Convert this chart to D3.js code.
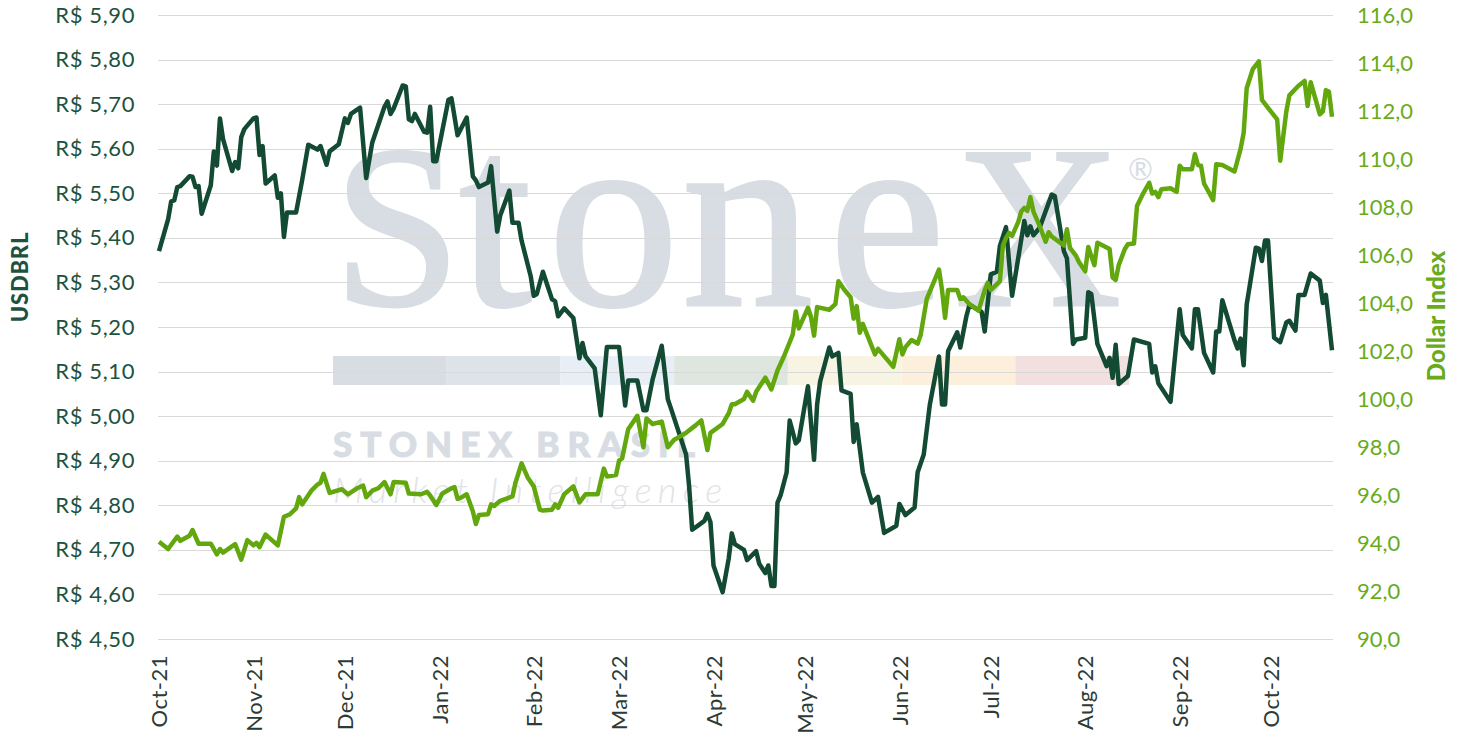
<!DOCTYPE html>
<html>
<head>
<meta charset="utf-8">
<script src="https://cdnjs.cloudflare.com/ajax/libs/d3/7.8.5/d3.min.js"></script>
<style>
  body { margin: 0; background: #ffffff; }
  #viz { width: 1461px; height: 741px; }
</style>
</head>
<body>
<div id="viz"></div>
<script>
// USDBRL (eixo esquerdo) - leitura do grafico
var brlDates = ['2021-10-01','2021-10-04','2021-10-05','2021-10-06','2021-10-07','2021-10-08','2021-10-11','2021-10-12','2021-10-13','2021-10-14',
  '2021-10-15','2021-10-18','2021-10-19','2021-10-20','2021-10-21','2021-10-22','2021-10-25','2021-10-26','2021-10-27','2021-10-28',
  '2021-10-29','2021-11-01','2021-11-02','2021-11-03','2021-11-04','2021-11-05','2021-11-08','2021-11-09','2021-11-10','2021-11-11',
  '2021-11-12','2021-11-15','2021-11-17','2021-11-19','2021-11-22','2021-11-23','2021-11-25','2021-11-26','2021-11-29','2021-12-01',
  '2021-12-02','2021-12-03','2021-12-06','2021-12-08','2021-12-10','2021-12-14','2021-12-15','2021-12-16','2021-12-17','2021-12-20',
  '2021-12-21','2021-12-22','2021-12-23','2021-12-24','2021-12-27','2021-12-28','2021-12-29','2021-12-30','2021-12-31','2022-01-04',
  '2022-01-05','2022-01-07','2022-01-10','2022-01-12','2022-01-13','2022-01-14','2022-01-17','2022-01-18','2022-01-20','2022-01-21',
  '2022-01-24','2022-01-25','2022-01-27','2022-01-28','2022-01-31','2022-02-01','2022-02-02','2022-02-04','2022-02-07','2022-02-08',
  '2022-02-09','2022-02-11','2022-02-14','2022-02-16','2022-02-17','2022-02-18','2022-02-21','2022-02-23','2022-02-25','2022-03-01',
  '2022-03-03','2022-03-04','2022-03-07','2022-03-09','2022-03-10','2022-03-12','2022-03-15','2022-03-17','2022-03-18','2022-03-23',
  '2022-03-24','2022-03-25','2022-03-27','2022-03-29','2022-03-30','2022-03-31','2022-04-01','2022-04-04','2022-04-06','2022-04-07',
  '2022-04-08','2022-04-11','2022-04-12','2022-04-15','2022-04-16','2022-04-18','2022-04-19','2022-04-20','2022-04-21','2022-04-22',
  '2022-04-23','2022-04-25','2022-04-26','2022-04-28','2022-04-29','2022-05-02','2022-05-04','2022-05-05','2022-05-06','2022-05-09',
  '2022-05-10','2022-05-12','2022-05-13','2022-05-16','2022-05-17','2022-05-18','2022-05-20','2022-05-23','2022-05-25','2022-05-27',
  '2022-05-31','2022-06-01','2022-06-03','2022-06-06','2022-06-07','2022-06-09','2022-06-11','2022-06-14','2022-06-15','2022-06-16',
  '2022-06-17','2022-06-20','2022-06-21','2022-06-23','2022-06-24','2022-06-28','2022-06-29','2022-07-01','2022-07-03','2022-07-04',
  '2022-07-06','2022-07-08','2022-07-12','2022-07-13','2022-07-14','2022-07-15','2022-07-17','2022-07-21','2022-07-22','2022-07-25',
  '2022-07-26','2022-07-28','2022-07-29','2022-08-01','2022-08-02','2022-08-03','2022-08-05','2022-08-08','2022-08-09','2022-08-10',
  '2022-08-11','2022-08-12','2022-08-15','2022-08-17','2022-08-22','2022-08-23','2022-08-24','2022-08-25','2022-08-29','2022-09-01',
  '2022-09-02','2022-09-05','2022-09-06','2022-09-07','2022-09-09','2022-09-12','2022-09-13','2022-09-14','2022-09-15','2022-09-19',
  '2022-09-20','2022-09-21','2022-09-22','2022-09-23','2022-09-26','2022-09-27','2022-09-28','2022-09-29','2022-09-30','2022-10-02',
  '2022-10-04','2022-10-06','2022-10-07','2022-10-09','2022-10-10','2022-10-12','2022-10-14','2022-10-17','2022-10-18','2022-10-19',
  '2022-10-21'];
var brlValues = [5.370,5.442,5.482,5.484,5.514,5.516,5.538,5.537,5.514,5.516,
  5.454,5.518,5.594,5.562,5.668,5.622,5.550,5.570,5.556,5.626,
  5.644,5.668,5.670,5.586,5.606,5.522,5.540,5.490,5.500,5.402,
  5.457,5.457,5.530,5.609,5.598,5.606,5.564,5.594,5.610,5.668,
  5.658,5.678,5.692,5.534,5.614,5.694,5.706,5.678,5.690,5.742,
  5.740,5.666,5.662,5.678,5.638,5.636,5.694,5.572,5.572,5.710,
  5.713,5.630,5.670,5.538,5.529,5.514,5.524,5.561,5.414,5.450,
  5.506,5.434,5.434,5.394,5.314,5.270,5.274,5.324,5.262,5.258,
  5.224,5.242,5.220,5.130,5.164,5.134,5.107,5.002,5.155,5.155,
  5.024,5.080,5.080,5.013,5.013,5.082,5.158,5.038,5.018,4.914,
  4.842,4.745,4.755,4.765,4.781,4.762,4.665,4.605,4.681,4.737,
  4.713,4.700,4.677,4.697,4.669,4.648,4.665,4.619,4.619,4.806,
  4.822,4.874,4.990,4.939,4.946,5.067,4.902,5.026,5.078,5.154,
  5.134,5.142,5.058,5.050,4.942,4.982,4.874,4.806,4.819,4.738,
  4.754,4.803,4.778,4.795,4.874,4.914,5.026,5.134,5.026,5.026,
  5.146,5.188,5.154,5.224,5.250,5.234,5.190,5.318,5.324,5.382,
  5.424,5.270,5.438,5.406,5.426,5.406,5.422,5.497,5.494,5.370,
  5.354,5.162,5.172,5.176,5.278,5.274,5.162,5.112,5.131,5.086,
  5.160,5.072,5.090,5.172,5.162,5.098,5.112,5.074,5.032,5.240,
  5.182,5.152,5.240,5.240,5.142,5.098,5.190,5.190,5.260,5.170,
  5.152,5.174,5.114,5.250,5.378,5.376,5.348,5.394,5.394,5.176,
  5.166,5.210,5.214,5.192,5.272,5.272,5.320,5.304,5.254,5.272,
  5.148];

// Dollar Index (eixo direito)
var dxyDates = ['2021-10-01','2021-10-04','2021-10-07','2021-10-08','2021-10-11','2021-10-12','2021-10-14','2021-10-18','2021-10-19','2021-10-20',
  '2021-10-21','2021-10-22','2021-10-26','2021-10-28','2021-10-30','2021-11-01','2021-11-02','2021-11-03','2021-11-05','2021-11-09',
  '2021-11-11','2021-11-13','2021-11-15','2021-11-16','2021-11-17','2021-11-19','2021-11-20','2021-11-22','2021-11-23','2021-11-24',
  '2021-11-26','2021-11-30','2021-12-02','2021-12-05','2021-12-07','2021-12-08','2021-12-10','2021-12-12','2021-12-14','2021-12-16',
  '2021-12-17','2021-12-21','2021-12-22','2021-12-26','2021-12-28','2021-12-29','2021-12-31','2022-01-02','2022-01-05','2022-01-06',
  '2022-01-07','2022-01-08','2022-01-10','2022-01-12','2022-01-13','2022-01-14','2022-01-17','2022-01-18','2022-01-19','2022-01-21',
  '2022-01-25','2022-01-26','2022-01-28','2022-01-30','2022-02-01','2022-02-03','2022-02-04','2022-02-07','2022-02-08','2022-02-09',
  '2022-02-11','2022-02-14','2022-02-16','2022-02-18','2022-02-22','2022-02-24','2022-02-25','2022-02-28','2022-03-01','2022-03-02',
  '2022-03-04','2022-03-07','2022-03-09','2022-03-10','2022-03-12','2022-03-15','2022-03-17','2022-03-19','2022-03-23','2022-03-26',
  '2022-03-28','2022-03-30','2022-03-31','2022-04-04','2022-04-06','2022-04-07','2022-04-08','2022-04-11','2022-04-12','2022-04-14',
  '2022-04-15','2022-04-18','2022-04-20','2022-04-22','2022-04-24','2022-04-27','2022-04-28','2022-04-29','2022-05-02','2022-05-03',
  '2022-05-04','2022-05-05','2022-05-09','2022-05-11','2022-05-12','2022-05-14','2022-05-16','2022-05-17','2022-05-18','2022-05-19',
  '2022-05-20','2022-05-24','2022-05-25','2022-05-28','2022-05-30','2022-06-01','2022-06-02','2022-06-03','2022-06-05','2022-06-07',
  '2022-06-08','2022-06-10','2022-06-14','2022-06-15','2022-06-16','2022-06-17','2022-06-20','2022-06-21','2022-06-22','2022-06-24',
  '2022-06-27','2022-06-29','2022-06-30','2022-07-01','2022-07-04','2022-07-05','2022-07-06','2022-07-07','2022-07-08','2022-07-10',
  '2022-07-11','2022-07-12','2022-07-13','2022-07-14','2022-07-15','2022-07-17','2022-07-19','2022-07-20','2022-07-21','2022-07-25',
  '2022-07-26','2022-07-27','2022-07-29','2022-07-30','2022-08-01','2022-08-02','2022-08-04','2022-08-05','2022-08-09','2022-08-10',
  '2022-08-11','2022-08-12','2022-08-14','2022-08-15','2022-08-17','2022-08-18','2022-08-20','2022-08-22','2022-08-23','2022-08-24',
  '2022-08-25','2022-08-26','2022-08-29','2022-08-31','2022-09-01','2022-09-02','2022-09-05','2022-09-06','2022-09-07','2022-09-08',
  '2022-09-09','2022-09-12','2022-09-13','2022-09-15','2022-09-19','2022-09-21','2022-09-22','2022-09-23','2022-09-25','2022-09-27',
  '2022-09-28','2022-09-30','2022-10-03','2022-10-04','2022-10-06','2022-10-07','2022-10-10','2022-10-12','2022-10-13','2022-10-14',
  '2022-10-17','2022-10-18','2022-10-19','2022-10-20','2022-10-21'];
var dxyValues = [94.05,93.75,94.27,94.09,94.30,94.54,93.97,93.97,93.75,93.53,
  93.75,93.60,93.95,93.31,94.12,93.90,94.01,93.83,94.35,93.90,
  95.09,95.20,95.44,95.91,95.61,95.99,96.18,96.43,96.51,96.88,
  96.09,96.24,96.03,96.28,96.39,95.91,96.18,96.28,96.54,96.03,
  96.54,96.51,96.06,96.03,96.13,95.98,95.58,96.06,96.28,96.33,
  95.84,95.88,96.03,95.32,94.79,95.17,95.20,95.61,95.54,95.76,
  95.94,96.51,97.32,96.73,96.36,95.39,95.35,95.39,95.61,95.47,
  96.03,96.36,95.69,96.03,96.03,97.10,96.77,96.83,97.43,97.52,
  98.74,99.30,97.99,99.19,98.96,99.06,97.99,98.29,98.59,98.89,
  99.11,97.87,98.59,98.96,99.41,99.78,99.78,100.00,100.30,99.93,
  100.30,100.89,100.40,101.19,101.74,102.68,103.65,102.94,103.80,103.42,
  102.64,103.83,103.72,103.95,104.91,104.54,104.24,103.35,103.87,102.76,
  103.13,101.86,102.09,101.64,101.34,102.49,101.86,102.16,102.46,102.31,
  102.68,104.17,105.39,104.54,103.38,104.54,104.54,104.17,104.24,103.95,
  103.68,104.54,104.84,104.54,104.91,106.40,106.70,106.92,106.80,107.37,
  107.81,107.96,107.84,108.41,107.81,107.22,106.55,106.95,106.77,106.40,
  107.07,106.30,105.96,105.70,105.32,106.33,105.58,106.51,106.25,105.06,
  104.96,105.58,106.25,106.45,106.48,108.04,108.56,109.01,108.56,108.63,
  108.41,108.74,108.78,108.63,109.72,109.57,109.57,110.20,109.75,109.72,
  108.98,108.29,109.78,109.75,109.48,110.42,111.09,112.95,113.74,114.07,
  112.46,112.13,111.65,109.93,111.98,112.65,113.05,113.25,112.21,113.20,
  111.86,111.98,112.87,112.80,111.76];

// Ticks dos eixos
var monthTicks = ['2021-10-01','2021-11-01','2021-12-01','2022-01-01','2022-02-01','2022-03-01','2022-04-01',
  '2022-05-01','2022-06-01','2022-07-01','2022-08-01','2022-09-01','2022-10-01'];
var brlTicks = [4.5,4.6,4.7,4.8,4.9,5.0,5.1,5.2,5.3,5.4,5.5,5.6,5.7,5.8,5.9];
var dxyTicks = [90,92,94,96,98,100,102,104,106,108,110,112,114,116];

// Faixa colorida do logo (marca d'agua)
var faixaCores = ['#d8dde4','#dee3ea','#e7eef6','#dde7e0','#f8f4e3','#fcf0dd','#f2e0e1'];

/*
 * Configuracao
 */
var width = 1461, height = 741;
var plotLeft = 158, plotRight = 1333, plotTop = 15, plotBottom = 639;
var corBrl = '#134a33', corDxy = '#63a70f';
var fonte = 'Lato, "Open Sans", sans-serif';
var parseData = d3.timeParse('%Y-%m-%d');

var svg = d3.select('#viz')
  .append('svg')
  .attr('width', width)
  .attr('height', height)
  .style('background', '#ffffff');

// layers
var gMarca = svg.append('g');
var gGrid  = svg.append('g');
var gEixos = svg.append('g');
var gLinhas = svg.append('g');

/*
 * Escalas
 */
var x = d3.scaleTime()
  .domain([parseData('2021-10-01'), parseData('2022-10-21')])
  .range([plotLeft + 1, plotRight - 1]);

var yBrl = d3.scaleLinear()
  .domain([4.5, 5.9])
  .range([plotBottom, plotTop]);

var yDxy = d3.scaleLinear()
  .domain([90, 116])
  .range([plotBottom, plotTop]);

/*
 * Marca d'agua StoneX (letra por letra, o logo tem minusculas altas)
 */
var logo = gMarca.append('text')
  .attr('y', 305)
  .style('font-family', '"Liberation Serif", "Times New Roman", serif')
  .style('fill', '#d8dde4')
  .style('stroke', '#d8dde4')
  .style('stroke-width', 3);

[['S', 333, 230], ['t', 459, 262], ['o', 548, 262], ['n', 682, 262], ['e', 829, 262], ['X', 955, 230]]
  .forEach(function(l){
    logo.append('tspan')
      .attr('x', l[1])
      .style('font-size', l[2] + 'px')
      .text(l[0]);
  });

gMarca.append('text')
  .attr('x', 1128)
  .attr('y', 180)
  .style('font-family', fonte)
  .style('font-size', '30px')
  .style('fill', '#d8dde4')
  .text('\u00ae');

var faixaX = d3.scaleBand()
  .domain(d3.range(faixaCores.length))
  .range([333, 1129]);

gMarca.selectAll('rect.faixa')
  .data(faixaCores)
  .enter()
  .append('rect')
  .attr('class', 'faixa')
  .attr('x', function(d, i){ return faixaX(i); })
  .attr('y', 356)
  .attr('width', faixaX.bandwidth())
  .attr('height', 29)
  .style('fill', function(d){ return d; });

gMarca.append('text')
  .attr('x', 333)
  .attr('y', 457)
  .attr('textLength', 362)
  .attr('lengthAdjust', 'spacing')
  .style('font-family', fonte)
  .style('font-weight', 900)
  .style('font-size', '35px')
  .style('fill', '#d8dde4')
  .style('stroke', '#d8dde4')
  .style('stroke-width', 1)
  .text('STONEX BRASIL');

gMarca.append('text')
  .attr('x', 333)
  .attr('y', 503)
  .attr('textLength', 389)
  .attr('lengthAdjust', 'spacing')
  .style('font-family', fonte)
  .style('font-weight', 300)
  .style('font-style', 'italic')
  .style('font-size', '36px')
  .style('fill', '#dfe3e8')
  .text('Market Intelligence');

/*
 * Grade horizontal (eixo esquerdo)
 */
gGrid.selectAll('line')
  .data(brlTicks)
  .enter()
  .append('line')
  .attr('x1', plotLeft)
  .attr('x2', plotRight)
  .attr('y1', function(d){ return Math.round(yBrl(d)) + 0.5; })
  .attr('y2', function(d){ return Math.round(yBrl(d)) + 0.5; })
  .attr('stroke', '#d9d9d9')
  .attr('stroke-width', 1);

/*
 * Eixos
 */
var eixoEsq = d3.axisLeft(yBrl)
  .tickValues(brlTicks)
  .tickSize(0)
  .tickPadding(0)
  .tickFormat(function(d){ return 'R$ ' + d.toFixed(2).replace('.', ','); });

gEixos.append('g')
  .attr('transform', 'translate(135,0)')
  .call(eixoEsq)
  .call(function(g){ g.select('.domain').remove(); })
  .selectAll('text')
  .style('font-family', fonte)
  .style('font-size', '22px')
  .style('letter-spacing', '0.6px')
  .style('fill', '#1d5240');

var eixoDir = d3.axisRight(yDxy)
  .tickValues(dxyTicks)
  .tickSize(0)
  .tickPadding(0)
  .tickFormat(function(d){ return d.toFixed(1).replace('.', ','); });

gEixos.append('g')
  .attr('transform', 'translate(1357,0)')
  .call(eixoDir)
  .call(function(g){ g.select('.domain').remove(); })
  .selectAll('text')
  .style('font-family', fonte)
  .style('font-size', '22px')
  .style('fill', '#6aab1c');

var eixoX = d3.axisBottom(x)
  .tickValues(monthTicks.map(parseData))
  .tickSize(0)
  .tickFormat(d3.timeFormat('%b-%y'));

gEixos.append('g')
  .attr('transform', 'translate(0,' + plotBottom + ')')
  .call(eixoX)
  .call(function(g){ g.select('.domain').remove(); })
  .selectAll('text')
  .attr('transform', 'rotate(-90)')
  .attr('x', -16)
  .attr('y', 0)
  .attr('dy', '0.35em')
  .style('text-anchor', 'end')
  .style('font-family', fonte)
  .style('font-size', '22px')
  .style('letter-spacing', '0.5px')
  .style('fill', '#2c3b34');

// Titulos dos eixos
gEixos.append('text')
  .attr('transform', 'translate(28,277) rotate(-90)')
  .style('text-anchor', 'middle')
  .style('font-family', fonte)
  .style('font-weight', 900)
  .style('font-size', '22px')
  .style('letter-spacing', '0.8px')
  .style('fill', '#1d5240')
  .text('USDBRL');

gEixos.append('text')
  .attr('transform', 'translate(1445,316) rotate(-90)')
  .style('text-anchor', 'middle')
  .style('font-family', fonte)
  .style('font-weight', 900)
  .style('font-size', '24px')
  .style('fill', '#6aab1c')
  .text('Dollar Index');

/*
 * Linhas das series
 */
var linhaBrl = d3.line()
  .x(function(d, i){ return x(parseData(brlDates[i])); })
  .y(function(d){ return yBrl(d); });

var linhaDxy = d3.line()
  .x(function(d, i){ return x(parseData(dxyDates[i])); })
  .y(function(d){ return yDxy(d); });

gLinhas.append('path')
  .datum(brlValues)
  .attr('d', linhaBrl)
  .attr('fill', 'none')
  .attr('stroke', corBrl)
  .attr('stroke-width', 4.5)
  .attr('stroke-linejoin', 'round');

gLinhas.append('path')
  .datum(dxyValues)
  .attr('d', linhaDxy)
  .attr('fill', 'none')
  .attr('stroke', corDxy)
  .attr('stroke-width', 4.5)
  .attr('stroke-linejoin', 'round');
</script>
</body>
</html>
